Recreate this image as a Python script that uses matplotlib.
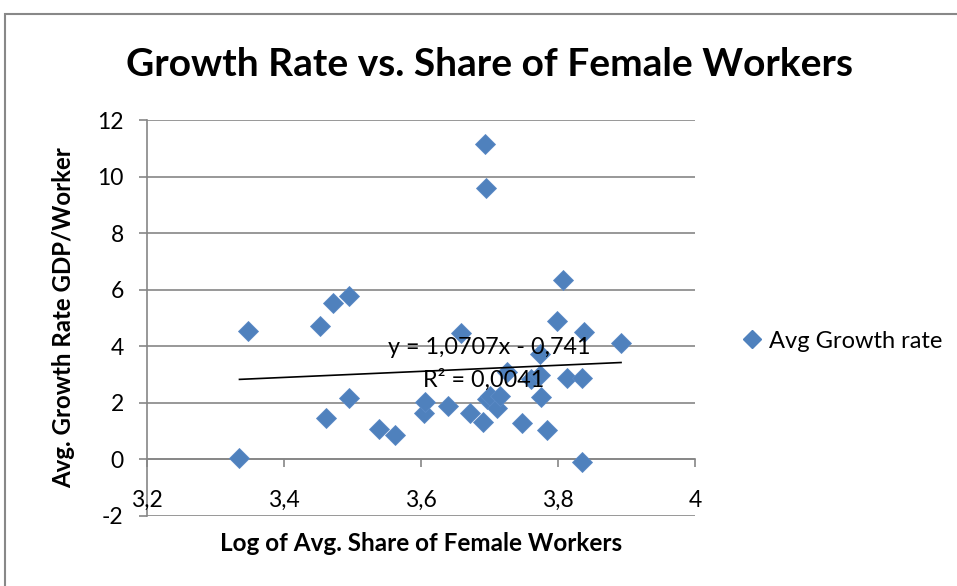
import matplotlib.pyplot as plt
from matplotlib.patches import Rectangle
from matplotlib.lines import Line2D

# log of avg. share of female workers
share_log = [3.335, 3.347, 3.453, 3.461, 3.472, 3.495, 3.495, 3.539, 3.562,
             3.604, 3.606, 3.639, 3.658, 3.671, 3.691, 3.694, 3.695, 3.696,
             3.700, 3.711, 3.715, 3.725, 3.747, 3.760, 3.773, 3.774, 3.775,
             3.784, 3.799, 3.808, 3.813, 3.835, 3.835, 3.838, 3.892]
# avg growth rate gdp/worker
growth = [0.06, 4.54, 4.71, 1.46, 5.53, 5.77, 2.18, 1.09, 0.85,
          1.64, 2.03, 1.89, 4.47, 1.65, 1.32, 11.14, 9.58, 2.15,
          2.24, 1.82, 2.25, 3.09, 1.30, 2.84, 3.74, 2.98, 2.19,
          1.05, 4.88, 6.33, 2.87, 2.87, -0.09, 4.51, 4.13]

slope, intercept = 1.0707, -0.741
eq_text = 'y = 1,0707x - 0,741'
r2_text = 'R² = 0,0041'

xticks = [3.2, 3.4, 3.6, 3.8, 4.0]
xticklabels = ['3,2', '3,4', '3,6', '3,8', '4']
yticks = [-2, 0, 2, 4, 6, 8, 10, 12]

blue = '#4F81BD'
grid = '#868686'
plt.rcParams['font.family'] = ['Lato', 'DejaVu Sans']

fig = plt.figure(figsize=(9.57, 5.86), dpi=100)
fig.patches.append(Rectangle((5 / 957, -0.1), 1.1, 1 - 14 / 586 + 0.1,
                             transform=fig.transFigure, fill=False,
                             edgecolor='#888888', linewidth=1.5))

ax = fig.add_axes([147 / 957, 1 - 516 / 586, 548 / 957, 396 / 586])
ax.set_xlim(3.2, 4.0)
ax.set_ylim(-2, 12)

ax.set_yticks(yticks)
ax.set_yticklabels([str(v) for v in yticks], fontsize=16.5)
ax.yaxis.grid(True, color=grid, linewidth=1.2)
ax.set_axisbelow(True)
for s in ['top', 'right']:
    ax.spines[s].set_visible(False)
ax.spines['left'].set_color(grid)
ax.spines['left'].set_linewidth(1.2)
ax.spines['bottom'].set_position(('data', 0))
ax.spines['bottom'].set_color(grid)
ax.spines['bottom'].set_linewidth(1.2)
ax.set_xticks(xticks)
ax.set_xticklabels([])
ax.tick_params(axis='x', direction='out', length=5.5, color=grid, width=1.2)
ax.tick_params(axis='y', direction='out', length=5.8, color=grid, width=1.2,
               pad=11)
for xv, lab in zip(xticks, xticklabels):
    ax.text(xv, -1.45, lab, ha='center', va='center', fontsize=16.5)

ax.plot(share_log, growth, 'D', color=blue, markersize=10.2,
        markeredgecolor='#5B8AC6', markeredgewidth=0.6, zorder=3,
        clip_on=False)

tx = [min(share_log), max(share_log)]
ty = [slope * v + intercept for v in tx]
ax.plot(tx, ty, color='black', linewidth=1.2, zorder=4)
ax.text(3.7, 3.94, eq_text, ha='center', va='center', fontsize=16.8, zorder=5)
ax.text(3.692, 2.8, r2_text, ha='center', va='center', fontsize=16.8, zorder=5)

fig.text(490 / 957, 1 - 65 / 586, 'Growth Rate vs. Share of Female Workers',
         ha='center', va='center', fontsize=28, fontweight='bold')
ax.set_xlabel('Log of Avg. Share of Female Workers', fontsize=17.5,
              fontweight='bold')
ax.xaxis.set_label_coords(0.5, -16 / 396)
ax.set_ylabel('Avg. Growth Rate GDP/Worker', fontsize=17.3, fontweight='bold')
ax.yaxis.set_label_coords(-(147 - 75) / 548, 0.5)

handle = Line2D([], [], marker='D', color=blue, linestyle='none',
                markersize=9)
fig.legend([handle], ['Avg Growth rate'], loc='center left',
           bbox_to_anchor=(717 / 957, 1 - 341 / 586), frameon=False,
           fontsize=17, handletextpad=0.1, handlelength=1.2)

fig.savefig('out.png', dpi=100)
